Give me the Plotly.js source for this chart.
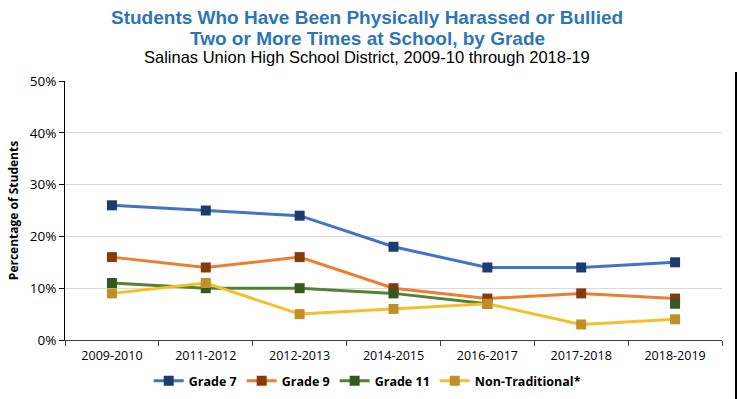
<!DOCTYPE html>
<html>
<head>
<meta charset="utf-8">
<script src="https://cdn.plot.ly/plotly-3.0.1.min.js"></script>
<style>html,body{margin:0;padding:0;background:#fff;}#chart{width:738px;height:399px;}</style>
</head>
<body>
<div id="chart"></div>
<script>
const years = ["2009-2010","2011-2012","2012-2013","2014-2015","2016-2017","2017-2018","2018-2019"];
const grade7 = [26, 25, 24, 18, 14, 14, 15];
const grade9 = [16, 14, 16, 10, 8, 9, 8];
const grade11 = [11, 10, 10, 9, 7, null, 7];
const nonTrad = [9, 11, 5, 6, 7, 3, 4];
const seriesNames = ["Grade 7", "Grade 9", "Grade 11", "Non-Traditional*"];

const styles = [
  {line: "#4472C4", marker: "#1F3B6E"},
  {line: "#ED7D31", marker: "#843C0C"},
  {line: "#548235", marker: "#375623"},
  {line: "#F5BE2A", marker: "#BF9026"}
];
const seriesData = [grade7, grade9, grade11, nonTrad];

const traces = seriesData.map((vals, i) => ({
  x: years,
  y: vals.map(v => v === null ? null : v / 100),
  name: seriesNames[i],
  type: "scatter",
  mode: "lines+markers",
  connectgaps: false,
  line: {color: styles[i].line, width: 3},
  marker: {symbol: "square", size: 10, color: styles[i].marker}
}));

const layout = {
  width: 738, height: 399,
  margin: {l: 65, r: 16, t: 81, b: 59, autoexpand: false},
  paper_bgcolor: "#fff", plot_bgcolor: "#fff",
  font: {family: "Liberation Sans, Arial, sans-serif", color: "#000"},
  showlegend: true,
  legend: {orientation: "h", x: 0.46, xanchor: "center", y: (340 - 381) / 259, yanchor: "middle",
    font: {size: 12.5, family: "Open Sans, Liberation Sans, sans-serif", color: "#000", weight: "bold"},
    traceorder: "normal", itemwidth: 30, tracegroupgap: 0},
  xaxis: {
    type: "category", showgrid: false, showline: true, linecolor: "#404040", linewidth: 1,
    ticks: "outside", tickson: "boundaries", ticklen: 5, tickcolor: "#404040",
    tickfont: {size: 12.5, family: "Open Sans, Liberation Sans, sans-serif"},
    ticklabelstandoff: 4,
    range: [-0.5, 6.5], fixedrange: true
  },
  yaxis: {
    range: [0, 0.5], dtick: 0.1, tickformat: ".0%", showgrid: true, gridcolor: "#DADADA",
    showline: true, linecolor: "#000", linewidth: 1, ticks: "outside", ticklen: 5, tickcolor: "#000",
    tickfont: {size: 13.5, family: "Open Sans, Liberation Sans, sans-serif"},
    zeroline: false,
    title: {text: "Percentage of Students", font: {size: 12, family: "Open Sans, Liberation Sans, sans-serif", weight: "bold"}, standoff: 8}
  },
  annotations: [
    {text: "<b>Students Who Have Been Physically Harassed or Bullied</b>", xref: "paper", yref: "paper",
     x: 0.46, y: (340 - 17) / 259, xanchor: "center", yanchor: "middle", showarrow: false,
     font: {size: 19, color: "#2E75B6", family: "Liberation Sans Narrow, Liberation Sans, Arial Narrow, sans-serif"}},
    {text: "<b>Two or More Times at School, by Grade</b>", xref: "paper", yref: "paper",
     x: 0.46, y: (340 - 38) / 259, xanchor: "center", yanchor: "middle", showarrow: false,
     font: {size: 19, color: "#2E75B6", family: "Liberation Sans Narrow, Liberation Sans, Arial Narrow, sans-serif"}},
    {text: "Salinas Union High School District, 2009-10 through 2018-19", xref: "paper", yref: "paper",
     x: 0.46, y: (340 - 57) / 259, xanchor: "center", yanchor: "middle", showarrow: false,
     font: {size: 16.5, color: "#000", family: "Liberation Sans Narrow, Liberation Sans, Arial Narrow, sans-serif"}}
  ],
  shapes: [
    {type: "line", xref: "paper", yref: "paper", x0: (736 - 65) / 657, x1: (736 - 65) / 657,
     y0: (340 - 72) / 259, y1: (340 - 399) / 259, line: {color: "#000", width: 2}}
  ]
};

Plotly.newPlot("chart", traces, layout, {displayModeBar: false, staticPlot: true});
</script>
</body>
</html>
